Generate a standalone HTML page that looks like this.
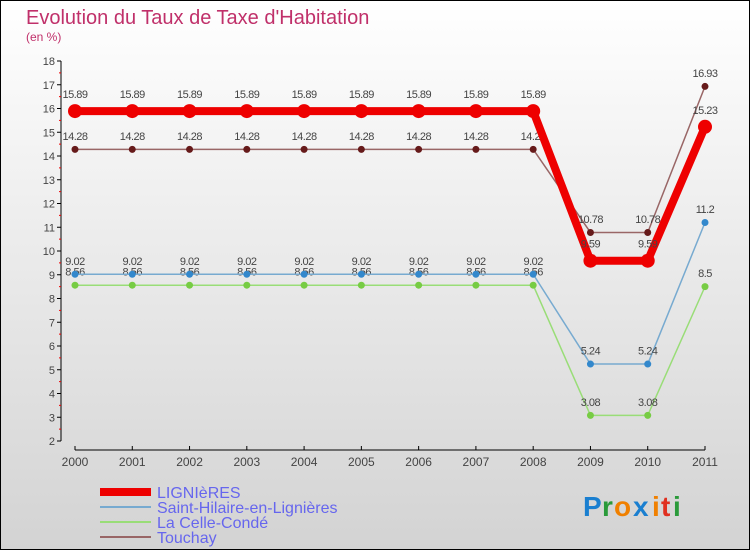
<!DOCTYPE html>
<html><head><meta charset="utf-8"><style>
html,body{margin:0;padding:0}
body{width:750px;height:550px;overflow:hidden;font-family:"Liberation Sans","DejaVu Sans",sans-serif}
</style></head><body>
<svg id="chart" width="750" height="550" xmlns="http://www.w3.org/2000/svg">
<defs><linearGradient id="bg" x1="0" y1="0" x2="0" y2="1"><stop offset="0" stop-color="#ffffff"/><stop offset="1" stop-color="#d3d3d3"/></linearGradient></defs>
<rect x="0.5" y="0.5" width="749" height="549" fill="url(#bg)" stroke="#000"/>
<text x="26" y="24" font-size="20" fill="#c0306a">Evolution du Taux de Taxe d'Habitation</text>
<text x="26" y="41" font-size="12" fill="#c0306a">(en %)</text>
<g id="axes"></g><g id="series"></g><g id="legend"></g>
<g font-size="28" font-weight="bold">
<text x="583" y="516" fill="#1a7fd0">P</text><text x="602" y="516" fill="#2a9a3a">r</text><text x="614" y="516" fill="#f08000">o</text><text x="633" y="516" fill="#1a7fd0">x</text><text x="652" y="516" fill="#f08000">i</text><text x="661" y="516" fill="#e03020">t</text><text x="673" y="516" fill="#2a9a3a">i</text>
</g>
</svg>
<script>
const years=["2000","2001","2002","2003","2004","2005","2006","2007","2008","2009","2010","2011"];
const yTicks=[2,3,4,5,6,7,8,9,10,11,12,13,14,15,16,17,18];
const lignieres=[15.89,15.89,15.89,15.89,15.89,15.89,15.89,15.89,15.89,9.59,9.59,15.23];
const saintHilaire=[9.02,9.02,9.02,9.02,9.02,9.02,9.02,9.02,9.02,5.24,5.24,11.2];
const laCelle=[8.56,8.56,8.56,8.56,8.56,8.56,8.56,8.56,8.56,3.08,3.08,8.5];
const touchay=[14.28,14.28,14.28,14.28,14.28,14.28,14.28,14.28,14.28,10.78,10.78,16.93];
const seriesNames=["LIGNIèRES","Saint-Hilaire-en-Lignières","La Celle-Condé","Touchay"];
const NS="http://www.w3.org/2000/svg";
const xS=i=>75+i*(630/11);
const yS=v=>441-(v-2)*23.75;
function mk(t,a,p){const e=document.createElementNS(NS,t);for(const k in a)e.setAttribute(k,a[k]);p.appendChild(e);return e;}
const ax=document.getElementById('axes');
const yl=mk('line',{x1:61,y1:yS(18),x2:61,y2:yS(2),stroke:'#000'},ax);


yTicks.forEach(v=>{
  mk('line',{x1:57,y1:yS(v),x2:61,y2:yS(v),stroke:'#000'},ax);
  if(v<18)mk('line',{x1:59,y1:yS(v+0.5),x2:61,y2:yS(v+0.5),stroke:'#e00'},ax);
  const t=mk('text',{x:55,y:yS(v)+4,'font-size':11,'text-anchor':'end',fill:'#444'},ax);t.textContent=v;
  
  
});
const xl=mk('line',{x1:xS(0),y1:450,x2:xS(11),y2:450,stroke:'#000'},ax);


years.forEach((y,i)=>{
  mk('line',{x1:xS(i),y1:446,x2:xS(i),y2:450,stroke:'#000'},ax);
  const t=mk('text',{x:xS(i),y:466,'font-size':12,'text-anchor':'middle',fill:'#444'},ax);t.textContent=y;
  
  
});
const sg=document.getElementById('series');
function draw(vals,color,w,r,name,lblColor){
  const g=mk('g',{},sg);
  
  
  mk('polyline',{points:vals.map((v,i)=>xS(i)+','+yS(v)).join(' '),fill:'none',stroke:color,'stroke-width':w,'stroke-linejoin':'round'},g);
  vals.forEach((v,i)=>{
    const c=mk('circle',{cx:xS(i),cy:yS(v),r:r,fill:lblColor},g);
    
    
    const t=mk('text',{x:xS(i),y:yS(v)-r-6,'font-size':11,'text-anchor':'middle',fill:'#444','letter-spacing':'-0.5'},g);t.textContent=v;
  });
}
draw(laCelle,'#99dd77',1.5,3.5,'series-la-celle-conde','#77cc44');
draw(saintHilaire,'#77aad0',1.5,3.5,'series-saint-hilaire','#3388cc');
draw(touchay,'#996666',1.5,3.5,'series-touchay','#661a1a');
draw(lignieres,'#ee0000',8,7,'series-lignieres','#ee0000');
const lg=document.getElementById('legend');
const lc=[['#ee0000',8],['#77aad0',2],['#99dd77',2],['#996666',2]];
seriesNames.forEach((n,i)=>{
  const y=492+i*15;
  const g=mk('g',{},lg);
  
  
  mk('line',{x1:100,y1:y,x2:151,y2:y,stroke:lc[i][0],'stroke-width':lc[i][1]},g);
  const t=mk('text',{x:157,y:y+6,'font-size':16,fill:'#6666ee'},g);t.textContent=n;
});
</script>
</body></html>
